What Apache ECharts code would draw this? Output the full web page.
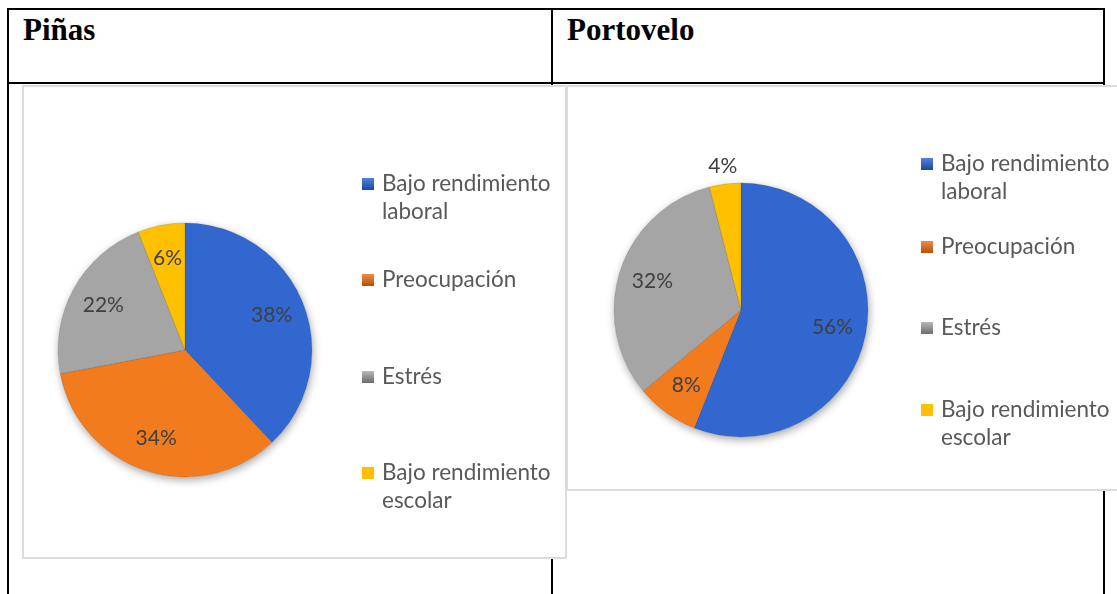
<!DOCTYPE html>
<html>
<head>
<meta charset="utf-8">
<script src="https://cdn.jsdelivr.net/npm/echarts@6/dist/echarts.min.js"></script>
<style>
  html, body { margin: 0; padding: 0; background: #fff; }
  .page { position: relative; width: 1117px; height: 594px; overflow: hidden; background: #fff; }
  .rule { position: absolute; background: #000; }
  .chartBox {
    position: absolute;
    box-sizing: border-box;
    background: #fff;
    border: 2px solid #dcdcdc;
  }
  .cellTitle {
    position: absolute;
    top: 14px;
    font-family: "Liberation Serif", serif;
    font-weight: bold;
    font-size: 31px;
    line-height: 31px;
    color: #000;
  }
  #chart { position: absolute; left: 0; top: 0; width: 1117px; height: 594px; }
</style>
</head>
<body>
<div class="page">
  <div class="rule" style="left:7px;top:8px;width:1098px;height:2px"></div>
  <div class="rule" style="left:7px;top:82px;width:1098px;height:2px"></div>
  <div class="rule" style="left:7px;top:8px;width:2px;height:586px"></div>
  <div class="rule" style="left:551px;top:8px;width:2px;height:586px"></div>
  <div class="rule" style="left:1103px;top:8px;width:2px;height:586px"></div>
  <div class="cellTitle" style="left:23px">Piñas</div>
  <div class="cellTitle" style="left:567px">Portovelo</div>
  <div class="chartBox" style="left:22px;top:85px;width:545px;height:474px"></div>
  <div class="chartBox" style="left:566px;top:85px;width:560px;height:406px"></div>
  <div id="chart"></div>
</div>
<script>
const categories = ['Bajo rendimiento laboral', 'Preocupación', 'Estrés', 'Bajo rendimiento escolar'];
const pinasValues = [38, 34, 22, 6];
const portoveloValues = [56, 8, 32, 4];
// Portovelo puts its smallest label outside the slice
const portoveloOutside = [false, false, false, true];

const sliceColors = ['#3167CF', '#F27B1E', '#A5A5A5', '#FFC000'];
const iconColors = [
  ['#4F82DE', '#1E479E'],
  ['#F28C42', '#B3500E'],
  ['#B8B8B8', '#6C6C6C'],
  ['#FFC000', '#FFC000']
];

const R = 127;

function sliceData(values, outside) {
  return values.map((v, i) => {
    const item = { name: categories[i], value: v, itemStyle: { color: sliceColors[i] } };
    if (outside && outside[i]) {
      item.label = { position: 'outside', distanceToLabelLine: 0 };
      item.labelLine = { show: false, length: 18, length2: 0 };
    }
    return item;
  });
}

function pieGroup(center, values, outside) {
  return [
    {
      // soft shadow under the disc
      type: 'pie', z: 1, silent: true, legendHoverLink: false,
      center: center, radius: [0, R], startAngle: 90,
      label: { show: false }, labelLine: { show: false },
      itemStyle: { color: '#ffffff', shadowBlur: 9, shadowOffsetY: 3, shadowOffsetX: 1, shadowColor: 'rgba(0,0,0,0.35)' },
      data: values.map((v, i) => ({ name: categories[i], value: v }))
    },
    {
      type: 'pie', z: 2,
      center: center, radius: [0, R], startAngle: 90,
      label: { show: false }, labelLine: { show: false },
      emphasis: { disabled: true },
      itemStyle: { borderColor: 'rgba(0,0,0,0.12)', borderWidth: 1 },
      data: sliceData(values)
    },
    {
      // transparent ring that only carries the labels (sits at ~0.7 r)
      type: 'pie', z: 3, silent: true, legendHoverLink: false,
      avoidLabelOverlap: false,
      center: center, radius: [R * 0.42, R], startAngle: 90,
      itemStyle: { color: 'rgba(0,0,0,0)' },
      label: {
        show: true, position: 'inside', formatter: '{c}%',
        fontFamily: 'Lato', fontSize: 21, color: '#404040'
      },
      labelLine: { show: false },
      labelLayout: { align: 'center' },
      data: sliceData(values, outside).map(d => Object.assign(d, { itemStyle: { color: 'rgba(0,0,0,0)' } }))
    }
  ];
}

function legendItem(name, idx, left, iconY) {
  const twoLines = name.indexOf('rendimiento ') >= 0;
  return {
    left: left,
    top: iconY - (twoLines ? 42 : 14),
    orient: 'vertical',
    padding: 0,
    itemWidth: 12,
    itemHeight: 12,
    icon: 'rect',
    selectedMode: false,
    formatter: n => twoLines ? '\n' + n.replace('rendimiento ', 'rendimiento\n') : n,
    textStyle: { fontFamily: 'Lato', fontSize: 22.5, color: '#595959', lineHeight: 28, padding: [0, 0, 0, 3] },
    data: [{
      name: name,
      itemStyle: {
        color: new echarts.graphic.LinearGradient(0, 0, 0, 1, [
          { offset: 0, color: iconColors[idx][0] },
          { offset: 1, color: iconColors[idx][1] }
        ])
      }
    }]
  };
}

const leftIconY = [184, 280, 377, 473];
const rightIconY = [164, 247, 328, 410];

const legends = []
  .concat(categories.map((c, i) => legendItem(c, i, 362, leftIconY[i])))
  .concat(categories.map((c, i) => legendItem(c, i, 921, rightIconY[i])));

const chart = echarts.init(document.getElementById('chart'));
chart.setOption({
  backgroundColor: 'transparent',
  animation: false,
  legend: legends,
  series: []
    .concat(pieGroup([185, 350], pinasValues, null))
    .concat(pieGroup([741, 310], portoveloValues, portoveloOutside))
});
</script>
</body>
</html>
